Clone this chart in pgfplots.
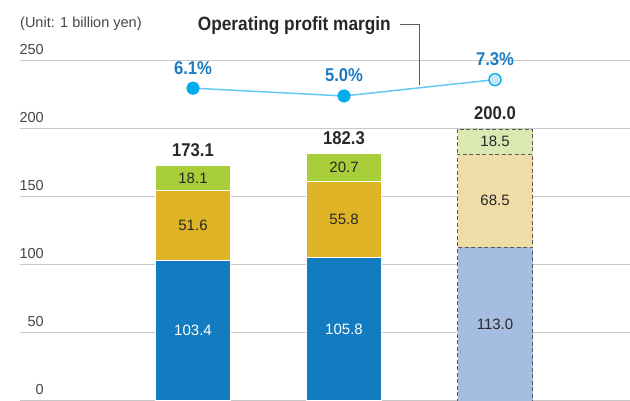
\documentclass[border=0pt]{standalone}
\usepackage{fontspec}
\setmainfont{Liberation Sans}
\newfontfamily\condfont{Liberation Sans}[FakeStretch=0.9]
\usepackage{pgfplots}
\usepackage{pgfplotstable}
\pgfplotsset{compat=1.18}
\pgfkeys{/pgf/number format/assume math mode=true}

\definecolor{cblue}{RGB}{19,123,192}
\definecolor{cgold}{RGB}{222,180,38}
\definecolor{cgreen}{RGB}{168,207,58}
\definecolor{lblue}{RGB}{165,189,225}
\definecolor{lgold}{RGB}{239,220,166}
\definecolor{lgreen}{RGB}{217,233,177}
\definecolor{gridgray}{RGB}{200,200,200}
\definecolor{tickgray}{RGB}{70,70,70}
\definecolor{dashgray}{RGB}{90,90,90}
\definecolor{darktext}{RGB}{40,40,40}
\definecolor{linecyan}{RGB}{100,200,240}
\definecolor{dotcyan}{RGB}{0,172,236}
\definecolor{paledot}{RGB}{200,232,248}
\definecolor{pctblue}{RGB}{26,124,196}

% bottom / middle / top segments and totals
\pgfplotstableread{
x a b c total
1 103.4 51.6 18.1 173.1
2 105.8 55.8 20.7 182.3
}\actual
\pgfplotstableread{
x a b c total
3 113.0 68.5 18.5 200.0
}\plan
\pgfplotstableread{
x m
1 6.1
2 5.0
3 7.3
}\margin

\pgfplotsset{
  frame/.style={at={(20pt,0pt)}, anchor=south west, scale only axis,
    width=610pt, height=360.4pt, xmin=-0.1457, xmax=3.894,
    /pgf/number format/assume math mode=true},
}
\tikzset{
  lbl/.style={font=\fontsize{15}{18}\selectfont, anchor=center, inner sep=0pt},
  bignum/.style={font=\condfont\bfseries\fontsize{18.5}{20}\selectfont,
    anchor=base, inner sep=0pt},
}
\newcommand{\onedec}{\pgfmathprintnumber[fixed,fixed zerofill,precision=1,assume math mode=true]{\pgfplotspointmeta}}

\begin{document}
\begin{tikzpicture}
% grid + actual bars
\begin{axis}[frame, ymin=0, ymax=265, ytick={0,50,...,250}, xtick=\empty,
  ymajorgrids, grid style={draw=gridgray, line width=1pt},
  axis line style={draw=none}, major tick length=0pt,
  yticklabel style={font=\fontsize{14.5}{16}\selectfont, text=tickgray,
    anchor=base east, inner sep=0pt, xshift=24pt, yshift=6pt},
  ybar stacked, bar width=75pt]
\addplot[fill=cblue, draw=white, line width=1pt] table[x=x,y=a]{\actual};
\addplot[fill=cgold, draw=white, line width=1pt] table[x=x,y=b]{\actual};
\addplot[fill=cgreen, draw=white, line width=1pt] table[x=x,y=c]{\actual};
\end{axis}
% plan bar
\begin{axis}[frame, hide axis, ymin=0, ymax=265, ybar stacked, bar width=75pt]
\addplot[fill=lblue, draw=dashgray, dash pattern=on 4pt off 2.5pt, line width=0.8pt] table[x=x,y=a]{\plan};
\addplot[fill=lgold, draw=dashgray, dash pattern=on 4pt off 2.5pt, line width=0.8pt] table[x=x,y=b]{\plan};
\addplot[fill=lgreen, draw=dashgray, dash pattern=on 4pt off 2.5pt, line width=0.8pt] table[x=x,y=c]{\plan};
\end{axis}
% value labels
\begin{axis}[frame, hide axis, ymin=0, ymax=265, clip=false,
  nodes near coords={\onedec}, point meta=explicit]
\addplot[draw=none, every node near coord/.style={lbl, text=white}]
  table[x=x, y expr=\thisrow{a}/2, meta=a]{\actual};
\addplot[draw=none, every node near coord/.style={lbl, text=darktext}]
  table[x=x, y expr=\thisrow{a}+\thisrow{b}/2, meta=b]{\actual};
\addplot[draw=none, every node near coord/.style={lbl, text=darktext}]
  table[x=x, y expr=\thisrow{a}+\thisrow{b}+\thisrow{c}/2, meta=c]{\actual};
\addplot[draw=none, every node near coord/.style={bignum, text=darktext, yshift=9pt}]
  table[x=x, y=total, meta=total]{\actual};
\addplot[draw=none, every node near coord/.style={lbl, text=darktext}]
  table[x=x, y expr=\thisrow{a}/2, meta=a]{\plan};
\addplot[draw=none, every node near coord/.style={lbl, text=darktext}]
  table[x=x, y expr=\thisrow{a}+\thisrow{b}/2, meta=b]{\plan};
\addplot[draw=none, every node near coord/.style={lbl, text=darktext}]
  table[x=x, y expr=\thisrow{a}+\thisrow{b}+\thisrow{c}/2, meta=c]{\plan};
\addplot[draw=none, every node near coord/.style={bignum, text=darktext, yshift=9pt}]
  table[x=x, y=total, meta=total]{\plan};
\end{axis}
% operating profit margin (%)
\begin{axis}[frame, hide axis, ymin=-37.96, ymax=12.80, clip=false]
\addplot[color=linecyan, line width=1.5pt, mark=none,
  nodes near coords={\onedec\%}, point meta=y,
  every node near coord/.style={bignum, text=pctblue, yshift=14pt}]
  table[x=x,y=m]{\margin};
\addplot[only marks, mark=*, mark size=6.3pt, mark options={fill=dotcyan, draw=dotcyan},
  restrict x to domain=0:2.5] table[x=x,y=m]{\margin};
\addplot[only marks, mark=*, mark size=6pt, mark options={fill=paledot, draw=dotcyan, line width=1.3pt},
  restrict x to domain=2.5:4] table[x=x,y=m]{\margin};
\end{axis}
\draw[dashgray, line width=0.8pt] (400pt,377pt) -- (419pt,377pt) -- (419pt,316pt);
\node[anchor=base east, inner sep=0pt, font=\condfont\bfseries\fontsize{19.2}{21}\selectfont, text=darktext]
  at (391pt,370.5pt) {Operating profit margin};
\node[anchor=base west, inner sep=0pt, font=\fontsize{14.5}{16}\selectfont, text=tickgray]
  at (20pt,373pt) {(Unit: 1 billion yen)};
\pgfresetboundingbox
\useasboundingbox (0,0) rectangle (630pt,401pt);
\end{tikzpicture}
\end{document}
